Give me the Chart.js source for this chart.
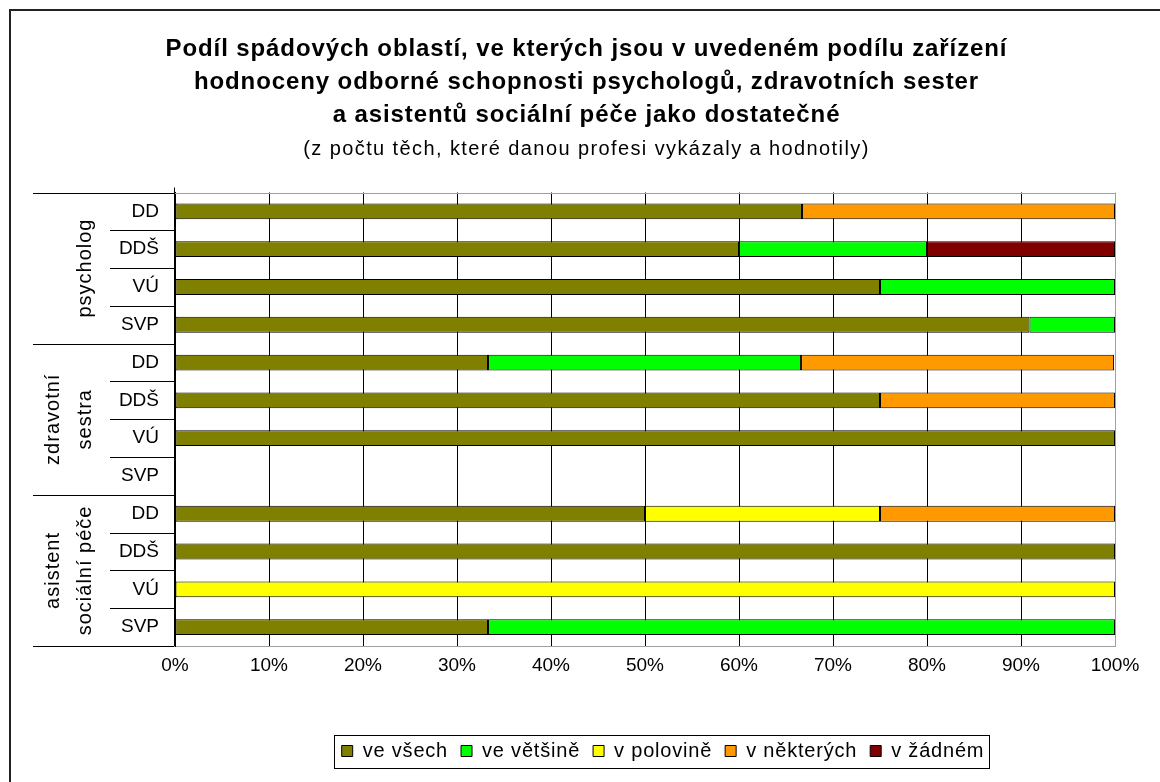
<!DOCTYPE html>
<html>
<head>
<meta charset="utf-8">
<script src="https://cdn.jsdelivr.net/npm/chart.js@4"></script>
<style>
html,body{margin:0;padding:0;background:#fff;}
#wrap{width:1160px;height:782px;position:relative;}
</style>
</head>
<body>
<div id="wrap"><canvas id="c" width="1160" height="782"></canvas></div>
<script>
const titleLines = ['Podíl spádových oblastí, ve kterých jsou v uvedeném podílu zařízení',
  'hodnoceny odborné schopnosti psychologů, zdravotních sester',
  'a asistentů sociální péče jako dostatečné'];
const subtitleText = '(z počtu těch, které danou profesi vykázaly a hodnotily)';
const categories = ['DD','DDŠ','VÚ','SVP','DD','DDŠ','VÚ','SVP','DD','DDŠ','VÚ','SVP'];
const groups = [['psycholog'], ['zdravotní','sestra'], ['asistent','sociální péče']];
const seriesNames = ['ve všech','ve většině','v polovině','v některých','v žádném'];
const seriesColors = ['#808000','#00FF00','#FFFF00','#FF9900','#800000'];
const veVsech    = [66.7, 60, 75, 90.9, 33.3, 75, 100, null, 50, 100, null, 33.3];
const veVetsine  = [null, 20, 25, 9.1, 33.3, null, null, null, null, null, null, 66.7];
const vPolovine  = [null, null, null, null, null, null, null, null, 25, null, 100, null];
const vNekterych = [33.3, null, null, null, 33.3, 25, null, null, 25, null, null, null];
const vZadnem    = [null, 20, null, null, null, null, null, null, null, null, null, null];
const seriesValues = [veVsech, veVetsine, vPolovine, vNekterych, vZadnem];
const xTicks = [0,10,20,30,40,50,60,70,80,90,100];

Chart.defaults.font.family = '"Liberation Sans", Arial, sans-serif';
Chart.defaults.color = '#000';

const FONT = '"Liberation Sans", Arial, sans-serif';

function wrapSpacing(obj, method, spacing, dx) {
  const orig = obj[method];
  obj[method] = function() {
    const ctx = this.ctx || obj.chart.ctx;
    ctx.save();
    ctx.letterSpacing = spacing;
    if (dx) ctx.translate(dx, 0);
    const r = orig.apply(this, arguments);
    ctx.restore();
    return r;
  };
}

const decor = {
  id: 'decor',
  beforeLayout(chart) {
    if (chart.$wrapped) return;
    chart.$wrapped = true;
    chart.boxes.forEach(b => {
      if (!b.options) return;
      if (b === chart.legend) {
        wrapSpacing(b, 'update', '0.8px', 0);
        wrapSpacing(b, 'draw', '0.8px', 0);
      } else if (Array.isArray(b.options.text)) {
        wrapSpacing(b, 'draw', '0.9px', 29);
      } else if (b.options.text === subtitleText) {
        wrapSpacing(b, 'draw', '1.4px', 29);
      }
    });
  },
  afterUpdate(chart) {
    const lg = chart.legend;
    const shift = 18;
    lg.left += shift; lg.right += shift;
    (lg.legendHitBoxes || []).forEach(h => { h.left += shift; });
  },
  afterDraw(chart) {
    const ctx = chart.ctx;
    const a = chart.chartArea;
    const y = chart.scales.y;
    const n = categories.length;
    const rowH = (a.bottom - a.top) / n;
    ctx.save();
    // outer frame
    ctx.strokeStyle = '#222';
    ctx.lineWidth = 2;
    ctx.beginPath();
    ctx.moveTo(10, 782); ctx.lineTo(10, 10); ctx.lineTo(1160, 10);
    ctx.stroke();
    // plot top border
    ctx.lineWidth = 1;
    ctx.strokeStyle = '#a0a0a0';
    ctx.beginPath();
    ctx.moveTo(a.left, Math.round(a.top) + 0.5); ctx.lineTo(a.right, Math.round(a.top) + 0.5);
    ctx.stroke();
    // y axis line
    ctx.strokeStyle = '#000';
    ctx.beginPath();
    const ax = Math.round(a.left) - 0.5;
    ctx.moveTo(ax, a.top - 5); ctx.lineTo(ax, a.bottom);
    ctx.stroke();
    // separators
    for (let k = 0; k <= n; k++) {
      const yy = Math.round(a.top + k * rowH) + 0.5;
      const x0 = (k % 4 === 0) ? 33 : 110;
      ctx.beginPath();
      ctx.moveTo(x0, yy); ctx.lineTo(ax, yy);
      ctx.stroke();
    }
    // group labels
    ctx.fillStyle = '#000';
    ctx.font = '20px ' + FONT;
    ctx.letterSpacing = '1px';
    ctx.textAlign = 'center';
    ctx.textBaseline = 'middle';
    groups.forEach((g, gi) => {
      const cy = (y.getPixelForValue(gi * 4) + y.getPixelForValue(gi * 4 + 3)) / 2;
      const xs = g.length === 1 ? [85] : [53, 85];
      g.forEach((t, li) => {
        ctx.save();
        ctx.translate(xs[li], cy);
        ctx.rotate(-Math.PI / 2);
        ctx.fillText(t, 0, 0);
        ctx.restore();
      });
    });
    ctx.letterSpacing = '0px';
    // legend border
    const hb = chart.legend.legendHitBoxes;
    if (hb && hb.length) {
      const l = Math.min(...hb.map(h => h.left));
      const r = Math.max(...hb.map(h => h.left + h.width));
      const t = Math.min(...hb.map(h => h.top));
      const hh = hb[0].height;
      const cy = t + hh / 2;
      ctx.strokeStyle = '#000';
      ctx.lineWidth = 1;
      ctx.strokeRect(Math.round(l - 8) + 0.5, Math.round(cy - 16.5) + 0.5, Math.round(r - l + 12), 33);
    }
    ctx.restore();
  }
};

new Chart(document.getElementById('c'), {
  type: 'bar',
  data: {
    labels: categories,
    datasets: seriesNames.map((name, i) => ({
      label: name,
      data: seriesValues[i],
      backgroundColor: seriesColors[i],
      borderColor: '#000',
      borderWidth: 1,
      borderSkipped: false,
      categoryPercentage: 1,
      barPercentage: 0.42
    }))
  },
  options: {
    indexAxis: 'y',
    responsive: false,
    animation: false,
    layout: { padding: { left: 0, right: 45, top: 0, bottom: 11 } },
    scales: {
      x: {
        stacked: true,
        min: 0, max: 100,
        afterBuildTicks: s => { s.ticks = xTicks.map(v => ({ value: v })); },
        afterFit: s => { s.height = 82; },
        ticks: { callback: v => v + '%', font: { size: 19 }, padding: 8, color: '#000', maxRotation: 0 },
        grid: {
          drawTicks: false,
          color: c => (c.index === 10 ? '#a0a0a0' : '#000'),
          lineWidth: 1
        },
        border: { display: true, color: '#a0a0a0', width: 1 }
      },
      y: {
        stacked: true,
        afterFit: s => { s.width = 175; },
        ticks: { font: { size: 19 }, padding: 16, color: '#000', autoSkip: false },
        grid: { display: false, drawTicks: false },
        border: { display: true, color: '#000', width: 1 }
      }
    },
    plugins: {
      title: {
        display: true,
        text: titleLines,
        color: '#000',
        font: { size: 24, weight: 'bold', lineHeight: 1.375 },
        padding: { top: 33, bottom: 0 }
      },
      subtitle: {
        display: true,
        text: subtitleText,
        color: '#000',
        font: { size: 20, lineHeight: 1.2 },
        padding: { top: 5.5, bottom: 31 }
      },
      legend: {
        position: 'bottom',
        fullSize: false,
        labels: { boxWidth: 11, boxHeight: 11, padding: 13, font: { size: 20 }, color: '#000' }
      },
      tooltip: { enabled: false }
    }
  },
  plugins: [decor]
});
</script>
</body>
</html>
